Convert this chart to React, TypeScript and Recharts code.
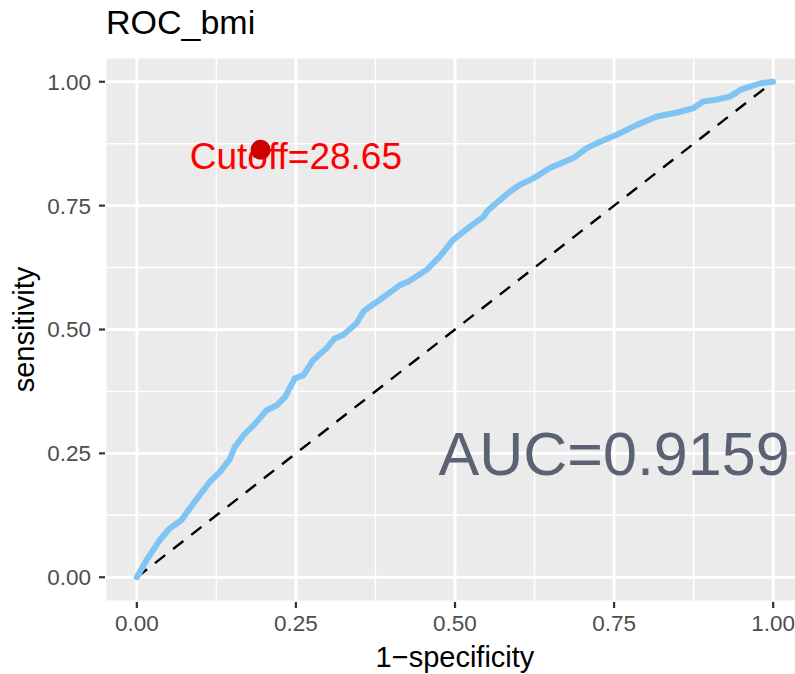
import React from "react";
import {
  ComposedChart,
  Line,
  Scatter,
  XAxis,
  YAxis,
  CartesianGrid,
  ReferenceLine,
} from "recharts";

// ROC curve
const fpr = [
  0, 0.015, 0.036, 0.052, 0.07, 0.081, 0.099, 0.115, 0.131, 0.146, 0.154, 0.17,
  0.186, 0.204, 0.22, 0.233, 0.248, 0.262, 0.277, 0.298, 0.311, 0.324, 0.345,
  0.356, 0.366, 0.382, 0.414, 0.427, 0.455, 0.476, 0.497, 0.524, 0.545, 0.552,
  0.586, 0.602, 0.623, 0.649, 0.686, 0.707, 0.728, 0.754, 0.786, 0.817, 0.849,
  0.875, 0.89, 0.911, 0.932, 0.949, 0.98, 1.0,
];
const tpr = [
  0, 0.034, 0.075, 0.099, 0.115, 0.135, 0.166, 0.193, 0.213, 0.238, 0.263, 0.29,
  0.31, 0.337, 0.347, 0.364, 0.401, 0.408, 0.438, 0.462, 0.482, 0.489, 0.512,
  0.536, 0.546, 0.56, 0.59, 0.597, 0.62, 0.647, 0.681, 0.708, 0.728, 0.741,
  0.778, 0.792, 0.805, 0.826, 0.846, 0.866, 0.879, 0.893, 0.913, 0.93, 0.938,
  0.947, 0.96, 0.964, 0.97, 0.984, 0.997, 1.0,
];

const diagonal = [
  { x: 0, y: 0 },
  { x: 1, y: 1 },
];
const cutoffPoint = [{ x: 0.1945, y: 0.8626 }];
const cutoffText = [{ x: 0.25, y: 0.85, text: "Cutoff=28.65" }];
const aucText = [{ x: 0.75, y: 0.25, text: "AUC=0.9159" }];

const majorTicks = [0, 0.25, 0.5, 0.75, 1];
const minorTicks = [0.125, 0.375, 0.625, 0.875];
const domain = [-0.05, 1.05];

const FONT = '"Liberation Sans", Arial, Helvetica, sans-serif';

const rocData = fpr.map((x, i) => ({ x, y: tpr[i] }));

const makeTextShape =
  (fontSize: number, fill: string) =>
  (props: any) => {
    const { cx, cy, payload } = props;
    return (
      <text
        x={cx}
        y={cy + fontSize * 0.358}
        textAnchor="middle"
        fontSize={fontSize}
        fill={fill}
        fontFamily={FONT}
      >
        {payload.text}
      </text>
    );
  };

export default function App() {
  return (
    <div
      style={{
        position: "absolute",
        left: 0,
        top: 0,
        width: 795,
        height: 674,
        overflow: "hidden",
        background: "#fff",
        fontFamily: FONT,
      }}
    >
      <svg
        width={795}
        height={60}
        style={{ position: "absolute", left: 0, top: 0 }}
      >
        <text x={106} y={34} fontSize={34} fill="#000" fontFamily={FONT}>
          ROC_bmi
        </text>
      </svg>
      <div style={{ position: "absolute", left: 0, top: 0 }}>
        <ComposedChart
          width={810}
          height={674}
          margin={{ top: 57, right: 5, bottom: 0, left: 0 }}
        >
          <CartesianGrid fill="#ebebeb" stroke="#ffffff" strokeWidth={2.8} />
          {minorTicks.map((t) => (
            <ReferenceLine
              key={"mx" + t}
              x={t}
              stroke="#ffffff"
              strokeWidth={1.4}
            />
          ))}
          {minorTicks.map((t) => (
            <ReferenceLine
              key={"my" + t}
              y={t}
              stroke="#ffffff"
              strokeWidth={1.4}
            />
          ))}
          <XAxis
            dataKey="x"
            type="number"
            domain={domain}
            ticks={majorTicks}
            allowDataOverflow
            height={72}
            axisLine={false}
            tickLine={{ stroke: "#333333", strokeWidth: 2.2 }}
            tickSize={6}
            tickMargin={7}
            tick={{ fill: "#4d4d4d", fontSize: 22.5, fontFamily: FONT }}
            tickFormatter={(v: number) => v.toFixed(2)}
            label={{
              value: "1\u2212specificity",
              position: "insideBottom",
              offset: 7,
              fontSize: 29,
              fill: "#000",
              fontFamily: FONT,
            }}
          />
          <YAxis
            type="number"
            domain={domain}
            ticks={majorTicks}
            allowDataOverflow
            width={105}
            axisLine={false}
            tickLine={{ stroke: "#333333", strokeWidth: 2.2 }}
            tickSize={6}
            tickMargin={8}
            tick={{ fill: "#4d4d4d", fontSize: 22.5, fontFamily: FONT }}
            tickFormatter={(v: number) => v.toFixed(2)}
            label={{
              content: () => (
                <text
                  x={34}
                  y={329.5}
                  transform="rotate(-90, 34, 329.5)"
                  textAnchor="middle"
                  fontSize={29}
                  fill="#000"
                  fontFamily={FONT}
                >
                  sensitivity
                </text>
              ),
            }}
          />
          <Line
            data={diagonal}
            dataKey="y"
            stroke="#000000"
            strokeWidth={2.4}
            strokeDasharray="13 10"
            dot={false}
            activeDot={false}
            isAnimationActive={false}
          />
          <Line
            data={rocData}
            dataKey="y"
            type="linear"
            stroke="#80c4f4"
            strokeWidth={6}
            strokeLinejoin="round"
            strokeLinecap="round"
            dot={false}
            activeDot={false}
            isAnimationActive={false}
          />
          <Scatter
            data={cutoffText}
            dataKey="y"
            shape={makeTextShape(37, "#ff0000")}
            isAnimationActive={false}
          />
          <Scatter
            data={cutoffPoint}
            dataKey="y"
            fill="#cc0000"
            shape={(p: any) => (
              <circle cx={p.cx} cy={p.cy} r={10} fill="#cc0000" />
            )}
            isAnimationActive={false}
          />
          <Scatter
            data={aucText}
            dataKey="y"
            shape={makeTextShape(61, "#5b6274")}
            isAnimationActive={false}
          />
        </ComposedChart>
      </div>
    </div>
  );
}
